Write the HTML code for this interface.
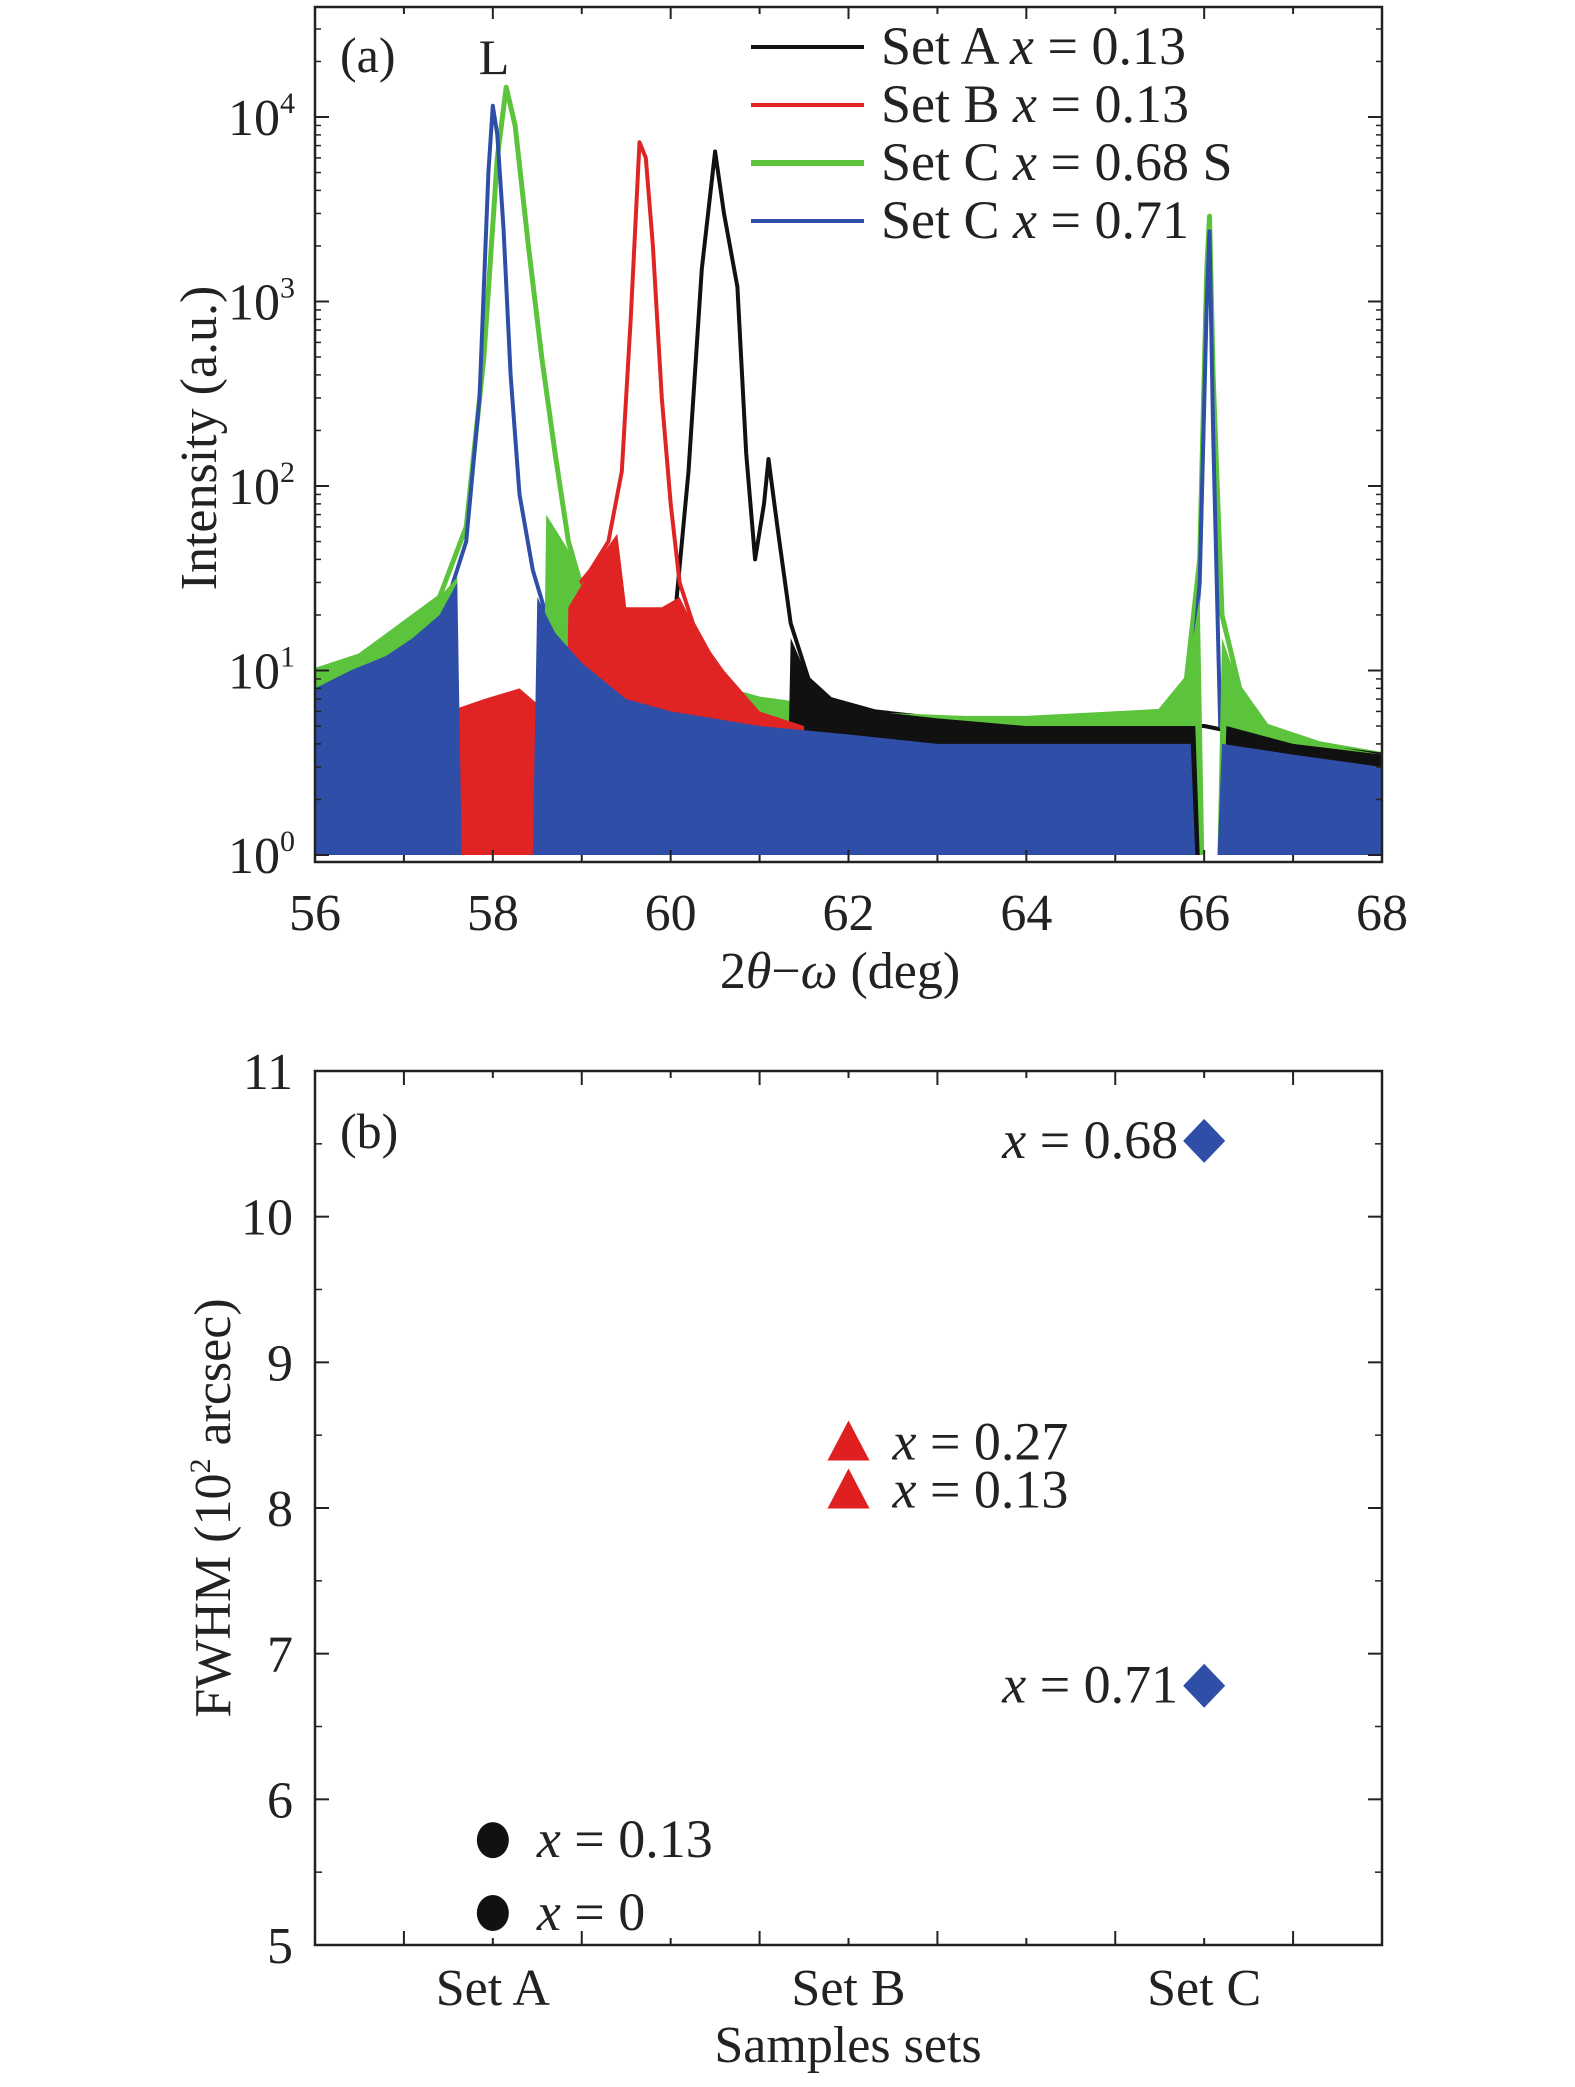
<!DOCTYPE html>
<html><head><meta charset="utf-8"><style>
html,body{margin:0;padding:0;background:#fff}
svg{display:block}
text{font-family:"Liberation Serif",serif;fill:#222}
</style></head><body>
<svg id="chart" width="1575" height="2087" viewBox="0 0 1575 2087" xmlns="http://www.w3.org/2000/svg">
<g id="pa"></g>
<g id="pb"></g>
</svg>
<script>
// ---- Panel (a) data: envelope points [2theta, intensity]
const xTicksA = [56,58,60,62,64,66,68];
const yDecadesA = [0,1,2,3,4];
const seriesNames = ["Set A","Set B","Set C 0.68 S","Set C 0.71"];
const blueEnv = [[56,7],[56.3,9],[56.6,11],[57,14],[57.3,18],[57.5,25],[57.7,50],[57.85,300],[57.95,5000],[58.0,11500],[58.05,8000],[58.12,2500],[58.2,400],[58.3,90],[58.45,35],[58.6,20],[58.9,12],[59.3,8],[59.8,6],[60.5,5],[61.5,4.5],[62.5,4],[64,4],[65.8,4],[65.95,30],[66.03,1000],[66.06,2400],[66.1,200],[66.18,5],[66.4,3.5],[67,3],[68,3]];
const blueFill = [[56,8],[56.4,10],[56.8,12],[57.1,15],[57.4,20],[57.6,30],[57.65,1],[58.45,1],[58.5,25],[58.7,16],[59,11],[59.5,7],[60,6],[61,5],[62,4.5],[63,4],[65.85,4],[65.9,1],[66.15,1],[66.2,4],[67,3.5],[68,3]];
const greenEnv = [[56,10],[56.5,12],[57,18],[57.4,25],[57.7,60],[57.9,500],[58.05,6000],[58.15,14500],[58.25,9000],[58.4,2000],[58.55,500],[58.7,150],[58.85,50],[59.0,28],[59.3,18],[59.7,12],[60.2,9],[61,7],[62,6],[63,5.5],[64,5.5],[65.5,6],[65.8,9],[65.95,40],[66.03,1500],[66.06,2900],[66.1,400],[66.2,20],[66.4,8],[66.7,5],[67.3,4],[68,3.5]];
const greenFill = [[56,10],[56.5,12],[57,18],[57.4,25],[57.6,32],[57.62,1],[58.55,1],[58.6,70],[58.85,45],[59,28],[59.3,18],[59.7,12],[60.2,9],[61,7],[62,6],[64,5.5],[65.5,6],[65.8,9],[65.95,25],[66.0,1],[66.15,1],[66.2,15],[66.4,8],[66.7,5],[67.3,4],[68,3.5]];
const redEnv = [[58.6,18],[58.85,25],[59.1,35],[59.3,50],[59.45,120],[59.55,800],[59.65,7300],[59.72,6000],[59.8,2000],[59.9,300],[60.0,80],[60.1,30],[60.25,18],[60.45,12],[60.7,8],[61,6],[61.5,5],[62,4]];
const redFill = [[57.1,1],[57.15,4],[57.5,6],[57.9,7],[58.3,8],[58.6,6],[58.65,1],[58.8,1],[58.85,22],[59.1,35],[59.4,55],[59.5,22],[59.9,22],[60.1,25],[60.3,16],[60.6,10],[61,6],[61.5,5],[61.55,1]];
const blackEnv = [[59.7,8],[59.9,12],[60.05,20],[60.2,120],[60.35,1500],[60.5,6500],[60.6,3000],[60.75,1200],[60.85,150],[60.95,40],[61.05,80],[61.1,140],[61.2,60],[61.35,18],[61.55,9],[61.8,7],[62.3,6],[63,5.5],[64,5],[65,5],[66,5],[67,4],[68,3.5]];
const blackFill = [[58.55,1],[58.6,2],[58.8,2],[58.85,1],[59.65,1],[59.7,8],[59.9,12],[60.05,14],[60.1,1],[61.3,1],[61.35,15],[61.55,9],[61.8,7],[62.3,6],[63,5.5],[64,5],[65,5],[65.9,5],[65.95,1],[66.2,1],[66.25,5],[67,4],[68,3.5]];

// ---- Panel (b) data
const catsB = ["Set A","Set B","Set C"];
const yTicksB = [5,6,7,8,9,10,11];
const ptCat = [0,0,1,1,2,2];
const ptVal = [5.22,5.72,8.12,8.45,6.78,10.52];
const ptLbl = ["x = 0","x = 0.13","x = 0.13","x = 0.27","x = 0.71","x = 0.68"];

const NS="http://www.w3.org/2000/svg";
function mk(tag,parent,attrs){const e=document.createElementNS(NS,tag);for(const k in attrs)e.setAttribute(k,attrs[k]);parent.appendChild(e);return e;}

// ---------- Panel A
const pa=document.getElementById('pa');
const AL=315,AR=1382,AT=7,AB=862;
const y0px=855, decade=184.5;
const xA=v=>AL+(v-56)/12*(AR-AL);
const yA=v=>y0px-Math.log10(Math.max(v,1))*decade;
function envPath(env){let d='M'+xA(env[0][0])+','+y0px;for(const p of env)d+=' L'+xA(p[0]).toFixed(1)+','+yA(p[1]).toFixed(1);d+=' L'+xA(env[env.length-1][0])+','+y0px+' Z';return d;}
function linePath(env){return env.map((p,i)=>(i?'L':'M')+xA(p[0]).toFixed(1)+','+yA(p[1]).toFixed(1)).join(' ');}
const cols={blue:'#2f4ea8',green:'#5cc43c',red:'#e02424',black:'#111'};
let e;
e=mk('path',pa,{d:linePath(greenEnv),fill:'none',stroke:cols.green,'stroke-width':5,'stroke-linejoin':'round'});


e=mk('path',pa,{d:linePath(blackEnv),fill:'none',stroke:cols.black,'stroke-width':4,'stroke-linejoin':'round'});


e=mk('path',pa,{d:linePath(redEnv),fill:'none',stroke:cols.red,'stroke-width':4,'stroke-linejoin':'round'});


e=mk('path',pa,{d:linePath(blueEnv),fill:'none',stroke:cols.blue,'stroke-width':4,'stroke-linejoin':'round'});


e=mk('path',pa,{d:envPath(greenFill),fill:cols.green});


e=mk('path',pa,{d:envPath(blackFill),fill:cols.black});


e=mk('path',pa,{d:envPath(redFill),fill:cols.red});


e=mk('path',pa,{d:envPath(blueFill),fill:cols.blue});


// frame
e=mk('rect',pa,{x:AL,y:AT,width:AR-AL,height:AB-AT,fill:'none',stroke:'#222','stroke-width':2.5});


for(let v=56;v<=68;v+=1){const big=v%2===0;const x=xA(v);
 mk('line',pa,{x1:x,x2:x,y1:AB,y2:AB-(big?12:7),stroke:'#222','stroke-width':2});
 mk('line',pa,{x1:x,x2:x,y1:AT,y2:AT+(big?12:7),stroke:'#222','stroke-width':2});}
for(const v of xTicksA){e=mk('text',pa,{x:xA(v),y:930,'font-size':52,'text-anchor':'middle'});e.textContent=v;
 
 }
for(const d of yDecadesA){const y=y0px-d*decade;
 mk('line',pa,{x1:AL,x2:AL+14,y1:y,y2:y,stroke:'#222','stroke-width':2});
 mk('line',pa,{x1:AR,x2:AR-14,y1:y,y2:y,stroke:'#222','stroke-width':2});
 for(let m=2;m<10;m++){const ym=y-Math.log10(m)*decade;if(ym<AT)break;
  mk('line',pa,{x1:AL,x2:AL+6,y1:ym,y2:ym,stroke:'#222','stroke-width':1.5});
  mk('line',pa,{x1:AR,x2:AR-6,y1:ym,y2:ym,stroke:'#222','stroke-width':1.5});}
 e=mk('text',pa,{x:295,y:y+18,'font-size':52,'text-anchor':'end'});e.innerHTML='10<tspan dy="-22" font-size="30">'+d+'</tspan>';
 
 }
e=mk('text',pa,{x:0,y:0,'font-size':52,'text-anchor':'middle',transform:'translate(216,438) rotate(-90)'});e.textContent='Intensity (a.u.)';


e=mk('text',pa,{x:840,y:988,'font-size':52,'text-anchor':'middle'});e.innerHTML='2<tspan font-style="italic">θ</tspan>−<tspan font-style="italic">ω</tspan> (deg)';


e=mk('text',pa,{x:340,y:72,'font-size':50});e.textContent='(a)';


e=mk('text',pa,{x:494,y:74,'font-size':50,'text-anchor':'middle'});e.textContent='L';


const legCols=[cols.black,cols.red,cols.green,cols.blue];
const legTxt=['Set A <tspan font-style="italic">x</tspan> = 0.13','Set B <tspan font-style="italic">x</tspan> = 0.13','Set C <tspan font-style="italic">x</tspan> = 0.68 S','Set C <tspan font-style="italic">x</tspan> = 0.71'];
for(let i=0;i<4;i++){const y=47+i*58;
 e=mk('line',pa,{x1:751,x2:864,y1:y,y2:y,stroke:legCols[i],'stroke-width':i===2?6:4});
 
 
 e=mk('text',pa,{x:881,y:y+17,'font-size':54});e.innerHTML=legTxt[i];
 
 }

// ---------- Panel B
const pb=document.getElementById('pb');
const BL=315,BR=1382,BT=1071,BB=1945;
const yB=v=>BB-(v-5)/6*(BB-BT);
const xB=i=>BL+(i*2+1)/6*(BR-BL);
e=mk('rect',pb,{x:BL,y:BT,width:BR-BL,height:BB-BT,fill:'none',stroke:'#222','stroke-width':2.5});


for(const v of yTicksB){const y=yB(v);
 mk('line',pb,{x1:BL,x2:BL+14,y1:y,y2:y,stroke:'#222','stroke-width':2});
 mk('line',pb,{x1:BR,x2:BR-14,y1:y,y2:y,stroke:'#222','stroke-width':2});
 if(v<11){const ym=yB(v+0.5);mk('line',pb,{x1:BL,x2:BL+7,y1:ym,y2:ym,stroke:'#222','stroke-width':1.5});mk('line',pb,{x1:BR,x2:BR-7,y1:ym,y2:ym,stroke:'#222','stroke-width':1.5});}
 e=mk('text',pb,{x:293,y:y+18,'font-size':52,'text-anchor':'end'});e.textContent=v;
 
 }
for(let k=1;k<12;k++){const x=BL+k/12*(BR-BL);const big=k%2===1;
 mk('line',pb,{x1:x,x2:x,y1:BB,y2:BB-(big?14:7),stroke:'#222','stroke-width':2});
 mk('line',pb,{x1:x,x2:x,y1:BT,y2:BT+(big?14:7),stroke:'#222','stroke-width':2});}
for(let i=0;i<catsB.length;i++){e=mk('text',pb,{x:xB(i),y:2005,'font-size':52,'text-anchor':'middle'});e.textContent=catsB[i];
 
 }
e=mk('text',pb,{x:848,y:2062,'font-size':52,'text-anchor':'middle'});e.textContent='Samples sets';


e=mk('text',pb,{x:0,y:0,'font-size':52,'text-anchor':'middle',transform:'translate(230,1508) rotate(-90)'});e.innerHTML='FWHM (10<tspan dy="-20" font-size="30">2</tspan><tspan dy="20"> arcsec)</tspan>';


e=mk('text',pb,{x:340,y:1148,'font-size':50});e.textContent='(b)';


for(let i=0;i<ptVal.length;i++){const cx=xB(ptCat[i]),cy=yB(ptVal[i]);const c=ptCat[i];let m;
 if(c===0)m=mk('ellipse',pb,{cx:cx,cy:cy,rx:16,ry:18,fill:'#111'});
 else if(c===1)m=mk('path',pb,{d:`M${cx},${cy-22} L${cx+21},${cy+18} L${cx-21},${cy+18} Z`,fill:'#e02020'});
 else m=mk('path',pb,{d:`M${cx},${cy-22} L${cx+21},${cy} L${cx},${cy+22} L${cx-21},${cy} Z`,fill:'#2f4ea8'});
 
 
 const left=c<2;
 const t=mk('text',pb,{x:left?cx+44:cx-26,y:cy+17,'font-size':54,'text-anchor':left?'start':'end'});
 t.innerHTML='<tspan font-style="italic">x</tspan>'+ptLbl[i].slice(1);
 
 }
</script>
</body></html>
